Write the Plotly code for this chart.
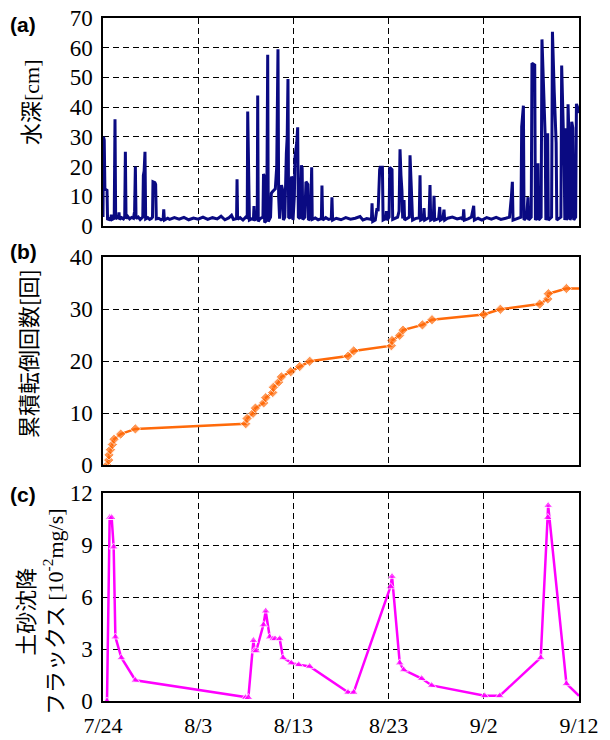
import plotly.graph_objects as go

# ---------------- data ----------------
x_tickvals = [0, 10, 20, 30, 40, 50]
x_ticktext = ["7/24", "8/3", "8/13", "8/23", "9/2", "9/12"]

# (a) water depth [cm]; x = days since 7/24
depth_day = [
    0.00, 0.05, 0.13, 0.20, 0.42, 0.48, 0.65, 0.80, 0.88, 0.95,
    1.18, 1.26, 1.33, 1.50, 1.62, 1.68, 1.74, 1.95, 2.15, 2.28,
    2.35, 2.42, 2.60, 2.80, 3.00, 3.20, 3.32, 3.40, 3.47, 3.70,
    3.90, 4.10, 4.18, 4.24, 4.32, 4.41, 4.48, 4.70, 4.90, 5.10,
    5.20, 5.25, 5.45, 5.53, 5.60, 5.85, 6.10, 6.32, 6.38, 6.45,
    6.80, 7.00, 7.50, 8.00, 8.50, 9.00, 9.50, 10.00, 10.50, 11.00,
    11.50, 12.00, 12.40, 12.80, 13.20, 13.50, 13.70, 14.00, 14.03, 14.08,
    14.14, 14.40, 14.70, 15.00, 15.15, 15.20, 15.26, 15.32, 15.38, 15.60,
    15.80, 15.86, 15.93, 16.10, 16.20, 16.25, 16.31, 16.50, 16.80, 16.86,
    16.92, 16.98, 17.20, 17.30, 17.36, 17.60, 17.68, 17.80, 17.95, 18.10,
    18.25, 18.38, 18.45, 18.55, 18.75, 18.82, 18.88, 18.95, 19.10, 19.26,
    19.35, 19.43, 19.50, 19.65, 19.80, 19.90, 19.96, 20.10, 20.17, 20.35,
    20.45, 20.52, 20.70, 20.84, 20.92, 20.98, 21.20, 21.32, 21.52, 21.58,
    21.80, 21.92, 21.98, 22.30, 22.60, 22.94, 23.00, 23.07, 23.40, 23.70,
    23.98, 24.05, 24.12, 24.50, 25.00, 25.50, 26.00, 26.50, 27.00, 27.30,
    27.70, 28.20, 28.26, 28.33, 28.60, 28.78, 28.90, 29.06, 29.12, 29.35,
    29.42, 29.70, 29.77, 29.84, 30.05, 30.12, 30.36, 30.43, 30.70, 30.95,
    31.10, 31.20, 31.30, 31.40, 31.48, 31.62, 31.68, 31.95, 32.18, 32.25,
    32.35, 32.45, 32.52, 32.80, 33.22, 33.30, 33.37, 33.65, 33.72, 33.79,
    34.25, 34.35, 34.42, 34.70, 34.77, 34.84, 35.25, 35.37, 35.44, 35.70,
    35.82, 35.89, 36.20, 36.70, 37.20, 37.60, 37.82, 37.89, 37.96, 38.40,
    38.70, 38.94, 39.01, 39.40, 39.80, 40.30, 40.80, 41.30, 41.80, 42.30,
    42.70, 42.90, 43.00, 43.07, 43.50, 43.90, 43.98, 44.16, 44.23, 44.50,
    44.64, 44.71, 44.98, 45.06, 45.35, 45.42, 45.62, 45.69, 45.76, 46.02,
    46.11, 46.30, 46.45, 46.52, 46.64, 46.71, 46.78, 47.12, 47.21, 47.40,
    47.60, 47.67, 48.10, 48.18, 48.30, 48.45, 48.51, 48.55, 48.60, 48.67,
    48.78, 48.85, 48.95, 49.05, 49.17, 49.24, 49.35, 49.45, 49.65, 49.73,
    49.85, 50.00,
]
depth_cm = [
    3.0, 30.0, 29.0, 12.5, 12.0, 2.0, 2.8, 1.8, 3.8, 2.2,
    2.6, 35.9, 2.4, 3.0, 2.6, 4.6, 2.2, 2.8, 2.4, 3.0,
    25.0, 2.5, 3.2, 2.4, 2.9, 2.6, 5.0, 20.0, 2.5, 3.0,
    2.2, 2.8, 3.0, 17.0, 18.5, 25.0, 2.4, 2.8, 2.2, 2.6,
    3.0, 14.9, 14.6, 14.0, 2.4, 2.6, 2.1, 2.4, 5.6, 2.0,
    2.6, 2.2, 2.8, 2.3, 2.9, 2.1, 2.7, 2.3, 3.0, 2.2,
    2.8, 2.4, 3.3, 2.1, 2.7, 3.6, 2.2, 2.5, 2.6, 15.7,
    2.3, 2.8, 2.0, 3.0, 2.8, 38.5, 18.0, 14.0, 2.0, 2.4,
    2.2, 6.7, 2.0, 2.5, 2.8, 43.9, 1.5, 2.5, 3.0, 17.5,
    17.0, 1.2, 2.0, 57.6, 1.5, 3.0, 11.0, 11.5, 12.0, 12.5,
    20.0, 59.5, 10.0, 2.5, 13.8, 13.0, 12.0, 2.0, 3.0, 24.5,
    30.0, 49.5, 3.0, 2.5, 16.6, 15.8, 2.0, 10.0, 23.3, 28.0,
    33.2, 3.0, 2.5, 20.4, 19.5, 2.2, 3.0, 14.9, 14.0, 2.0,
    2.5, 19.8, 2.2, 2.7, 2.1, 2.5, 13.6, 2.0, 2.8, 2.2,
    2.5, 9.7, 2.0, 2.6, 2.1, 2.8, 2.3, 2.6, 3.2, 2.0,
    2.5, 2.2, 7.6, 1.5, 2.0, 6.0, 5.0, 19.0, 19.8, 19.8,
    2.0, 2.5, 5.0, 2.0, 3.0, 19.8, 19.0, 2.2, 2.5, 3.0,
    5.0, 25.8, 17.0, 12.0, 2.5, 8.7, 2.0, 2.5, 3.0, 23.8,
    15.0, 8.0, 2.0, 2.5, 2.8, 17.1, 2.0, 2.5, 6.0, 2.0,
    2.8, 13.8, 2.0, 2.5, 10.2, 2.0, 2.5, 6.4, 2.0, 2.5,
    5.5, 2.0, 2.6, 3.0, 2.4, 2.7, 2.2, 5.6, 2.0, 2.5,
    3.0, 6.8, 2.0, 2.6, 2.0, 2.8, 2.3, 2.9, 2.2, 2.6,
    3.0, 10.0, 14.9, 2.0, 2.5, 3.0, 33.4, 40.5, 2.0, 3.0,
    9.7, 2.0, 3.0, 54.8, 54.2, 2.0, 3.0, 21.1, 2.0, 3.0,
    62.8, 45.0, 30.0, 2.0, 3.0, 31.2, 2.0, 3.0, 65.4, 45.0,
    28.0, 2.0, 3.0, 54.0, 42.0, 20.0, 2.0, 3.0, 32.9, 2.0,
    3.0, 41.0, 30.0, 2.0, 3.0, 35.1, 33.0, 2.0, 3.0, 41.1,
    40.0, 38.0,
]

# (b) cumulative number of overturns
count_day = [0.42, 0.60, 0.63, 0.78, 0.99, 1.16, 1.86, 3.40, 14.99, 15.13,
             15.76, 16.01, 16.88, 17.09, 17.83, 17.90, 18.46, 18.74, 19.72, 20.66,
             21.71, 25.74, 26.33, 30.29, 30.36, 31.17, 31.51, 33.55, 34.56, 39.99,
             41.74, 45.87, 46.72, 46.78, 48.68, 50.00]
count_n = [0, 1, 2, 3, 4, 5, 6, 7, 8, 9,
           10, 11, 12, 13, 14, 15, 16, 17, 18, 19,
           20, 21, 22, 23, 24, 25, 26, 27, 28, 29,
           30, 31, 32, 33, 34, 34]

# (c) sediment settling flux [10^-2 mg/s]
flux_day = [0.42, 0.70, 0.91, 1.12, 1.30, 1.93, 3.40, 14.99, 15.27, 15.80,
            15.93, 16.10, 16.85, 17.09, 17.51, 17.86, 18.07, 18.56, 18.91, 19.79,
            20.56, 21.71, 25.74, 26.33, 30.20, 30.36, 31.17, 31.59, 33.48, 34.53,
            40.09, 41.67, 45.98, 46.72, 46.76, 48.68, 50.00]
flux_val = [0.0, 10.6, 10.6, 8.9, 3.7, 2.5, 1.2, 0.2, 0.2, 3.5,
            2.9, 2.9, 4.4, 5.2, 3.7, 3.6, 3.6, 3.6, 2.5, 2.2,
            2.1, 2.0, 0.5, 0.5, 6.6, 7.2, 2.2, 1.8, 1.3, 0.9,
            0.3, 0.3, 2.5, 10.6, 11.3, 1.0, 0.3]

# ---------------- figure ----------------
W, H = 610, 740
L, R, T, B = 103, 31, 18, 39
PW, PH = W - L - R, H - T - B

def py(yp):
    return (H - B - yp) / PH

def px(xp):
    return (xp - L) / PW

SERIF = "Liberation Serif"
CJK = "Noto Sans CJK JP"
grid_dash = "6px,4px"

fig = go.Figure()
fig.add_trace(go.Scatter(x=depth_day, y=depth_cm, mode="lines",
                         line=dict(color="#0a0a82", width=3),
                         xaxis="x", yaxis="y", showlegend=False))
fig.add_trace(go.Scatter(x=count_day, y=count_n, mode="lines+markers",
                         line=dict(color="#FF6A0A", width=2.5),
                         marker=dict(symbol="diamond", size=[8] * (len(count_day) - 1) + [0],
                                     color="#FF6A0A"),
                         xaxis="x2", yaxis="y2", showlegend=False))
fig.add_trace(go.Scatter(x=flux_day, y=flux_val, mode="lines+markers",
                         line=dict(color="#FF00FF", width=2.5),
                         marker=dict(symbol="triangle-up", size=[8] * (len(flux_day) - 1) + [0],
                                     color="#FF00FF"),
                         xaxis="x3", yaxis="y3", showlegend=False))

def xax(anchor, labels):
    return dict(range=[0, 50], tickvals=x_tickvals, ticktext=x_ticktext,
                showticklabels=labels, showgrid=True, gridcolor="black",
                griddash=grid_dash, gridwidth=1, showline=True, mirror=True,
                linecolor="black", linewidth=1.5, ticks="", zeroline=False,
                anchor=anchor, ticklabelstandoff=4, automargin=False,
                tickfont=dict(family=SERIF, size=22, color="black"))

def yax(anchor, rng, dtick, dom):
    return dict(range=rng, dtick=dtick, domain=dom, showgrid=True,
                gridcolor="black", griddash=grid_dash, gridwidth=1,
                showline=True, mirror=True, linecolor="black", linewidth=1.5,
                ticks="", zeroline=False, anchor=anchor, ticklabelstandoff=4,
                automargin=False,
                tickfont=dict(family=SERIF, size=23, color="black"))

fig.update_layout(
    width=W, height=H, margin=dict(l=L, r=R, t=T, b=B, autoexpand=False),
    paper_bgcolor="white", plot_bgcolor="white",
    xaxis=xax("y", False),
    xaxis2=xax("y2", False),
    xaxis3=xax("y3", True),
    yaxis=yax("x", [0, 70], 10, [py(226), 1.0]),
    yaxis2=yax("x2", [0, 40], 10, [py(465.3), py(257.3)]),
    yaxis3=yax("x3", [0, 12], 3, [0.0, py(493.3)]),
)

ann = []
for lab, ypix in [("(a)", 25), ("(b)", 251), ("(c)", 494)]:
    ann.append(dict(text="<b>%s</b>" % lab, x=px(23), y=py(ypix), xref="paper", yref="paper",
                    xanchor="center", yanchor="middle", showarrow=False,
                    font=dict(family="Liberation Sans", size=21, color="black")))

ann.append(dict(text="水深<span style='font-family:Liberation Serif'>[cm]</span>",
                x=px(29), y=py(102), xref="paper", yref="paper", textangle=-90,
                xanchor="center", yanchor="middle", showarrow=False,
                font=dict(family=CJK, size=22, color="black")))
ann.append(dict(text="累積転倒回数[回]",
                x=px(27), y=py(354), xref="paper", yref="paper", textangle=-90,
                xanchor="center", yanchor="middle", showarrow=False,
                font=dict(family=CJK, size=22, color="black")))
ann.append(dict(text="土砂沈降<br>フラックス <span style='font-family:Liberation Serif'>[10<sup>-2</sup>mg/s]</span>",
                x=px(38), y=py(612), xref="paper", yref="paper", textangle=-90,
                xanchor="center", yanchor="middle", showarrow=False,
                font=dict(family=CJK, size=22, color="black")))
fig.update_layout(annotations=ann)

fig.write_html("out.html", config={"displayModeBar": False},
               post_script="document.body.style.margin='0px';document.body.style.padding='0px';")
